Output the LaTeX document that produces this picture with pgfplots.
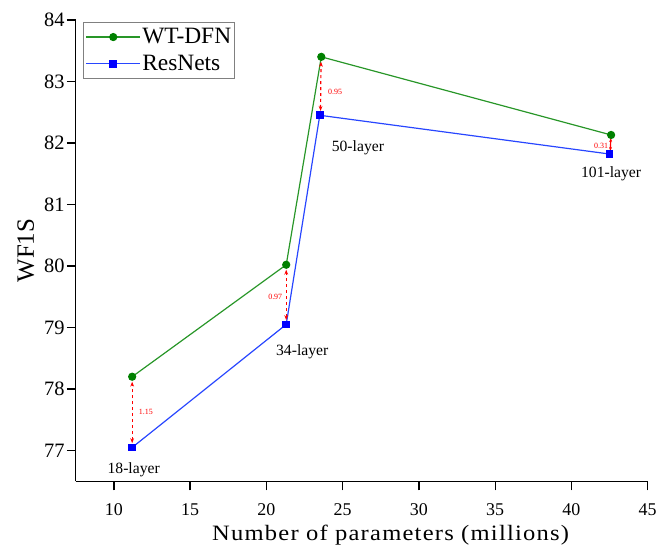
\documentclass[border=0pt]{standalone}
\usepackage{graphicx}
\usepackage{pgfplots}
\pgfplotsset{compat=1.18}
\usepackage{fontspec}
\setmainfont{Liberation Serif}
\newfontfamily\spaced[LetterSpace=5]{Liberation Serif}
\usetikzlibrary{arrows.meta}
\definecolor{wtgreen}{RGB}{40,150,40}
\definecolor{wtgreenm}{RGB}{0,128,0}
\definecolor{resblue}{RGB}{40,70,255}
\begin{document}
\begin{tikzpicture}
\begin{axis}[
    scale only axis,
    width=574pt, height=463pt,
    xmin=7.5, xmax=45, ymin=76.5, ymax=84,
    xtick={10,15,...,45}, ytick={77,...,84},
    axis x line*=bottom, axis y line*=left,
    axis line style={-, line width=1.3pt},
    tick align=outside, tick style={black, line width=1.3pt},
    major tick length=9pt,
    xticklabel style={font=\fontsize{18}{21}\selectfont, yshift=-10pt},
    yticklabel style={font=\fontsize{20.5}{23}\selectfont, inner sep=1pt, xshift=-1pt},
    /pgf/number format/assume math mode=true,
    xlabel={\scalebox{1.12}[1]{\spaced Number of parameters (millions)}},
    ylabel={WF1S},
    xlabel style={font=\fontsize{22}{25}\selectfont, at={(axis description cs:0.5,0)}, anchor=center, xshift=29pt, yshift=-54pt},
    ylabel style={font=\fontsize{25}{28}\selectfont, at={(axis description cs:0,0.5)}, anchor=center, yshift=50pt},
    legend style={at={(axis cs:8.0,83.97)}, anchor=north west, draw=gray, line width=0.8pt,
        font=\fontsize{23.5}{26}\selectfont, row sep=7pt, inner xsep=2pt, inner ysep=5pt,
        nodes={inner sep=1.5pt}},
    legend cell align=left,
    legend image code/.code={\draw[#1] (0pt,0pt) -- (54pt,0pt) plot coordinates {(27pt,0pt)};},
]
\addplot[wtgreen, line width=1.2pt, mark=*, mark size=3.5pt, mark options={fill=wtgreenm, draw=wtgreenm}]
  coordinates {(11.2,78.20) (21.3,80.02) (23.6,83.40) (42.6,82.13)};
\addlegendentry{WT-DFN}
\addplot[resblue, line width=1.2pt, mark=square*, mark size=3.3pt, mark options={fill=blue, draw=blue}]
  coordinates {(11.2,77.05) (21.3,79.05) (23.5,82.45) (42.5,81.82)};
\addlegendentry{ResNets}

\draw[red, dashed, line width=1.2pt, {Stealth[length=5pt]}-{Stealth[length=5pt]}]
  (axis cs:11.2,77.12) -- (axis cs:11.2,78.12);
\draw[red, dashed, line width=1.2pt, {Stealth[length=5pt]}-{Stealth[length=5pt]}]
  (axis cs:21.3,79.12) -- (axis cs:21.3,79.94);
\draw[red, dashed, line width=1.2pt, {Stealth[length=5pt]}-{Stealth[length=5pt]}]
  (axis cs:23.55,82.52) -- (axis cs:23.58,83.32);
\draw[red, line width=1.2pt, {Stealth[length=4pt]}-{Stealth[length=4pt]}]
  (axis cs:42.55,81.87) -- (axis cs:42.58,82.08);

\node[red, font=\fontsize{8}{9}\selectfont] at (axis cs:12.1,77.62) {1.15};
\node[red, font=\fontsize{8}{9}\selectfont] at (axis cs:20.58,79.5) {0.97};
\node[red, font=\fontsize{8}{9}\selectfont] at (axis cs:24.5,82.83) {0.95};
\node[red, font=\fontsize{8}{9}\selectfont] at (axis cs:41.94,81.96) {0.31};

\node[font=\fontsize{15.7}{18}\selectfont] at (axis cs:11.3,76.68) {18-layer};
\node[font=\fontsize{15.7}{18}\selectfont] at (axis cs:22.35,78.6) {34-layer};
\node[font=\fontsize{15.7}{18}\selectfont] at (axis cs:26.0,81.93) {50-layer};
\node[font=\fontsize{15.7}{18}\selectfont] at (axis cs:42.6,81.5) {101-layer};
\end{axis}
\path ([xshift=-76pt,yshift=20pt]current axis.north west);
\path ([xshift=10pt,yshift=-68pt]current axis.south east);
\end{tikzpicture}
\end{document}
